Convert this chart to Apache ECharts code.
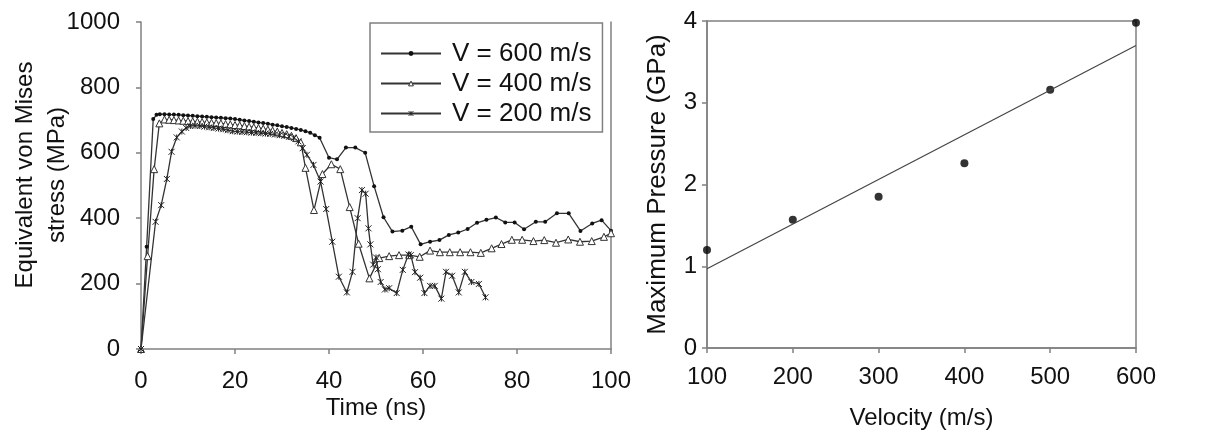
<!DOCTYPE html>
<html>
<head>
<meta charset="utf-8">
<script src="https://cdn.jsdelivr.net/npm/echarts@6/dist/echarts.min.js"></script>
<style>
  html, body { margin: 0; padding: 0; background: #fff; }
  #chart { width: 1214px; height: 438px; }
</style>
</head>
<body>
<div id="chart"></div>
<script>
// left panel: stress history [time (ns), stress (MPa)]
const v600 = [
  [0, 0], [1.2, 313], [2.6, 703], [3.3, 716], [4, 718], [5, 718], [6, 717], [7, 717], [8, 716], [9, 715],
  [10, 714], [11, 713], [12, 712], [13, 711], [14, 710], [15, 709], [16, 708], [17, 707], [18, 706], [19, 705],
  [20, 703], [21, 701], [22, 699], [23, 697], [24, 695], [25, 693], [26, 691], [27, 689], [28, 686], [29, 684],
  [30, 681], [31, 679], [32, 676], [33, 673], [34, 670], [35, 666], [36, 661], [37, 654], [38, 646], [40, 585],
  [41.7, 580], [43.6, 616], [45.6, 616], [47.7, 600], [49.6, 498], [51.6, 403], [53.5, 359], [55.6, 362],
  [57.5, 374], [59.5, 320], [61.5, 328], [63.5, 333], [65.5, 349], [67.5, 356], [69.5, 367], [71.5, 386],
  [73.5, 395], [75.5, 402], [77.5, 387], [79.5, 387], [81.5, 366], [84, 389], [86, 389], [88.5, 415],
  [91, 415], [93.5, 361], [96, 384], [98, 394], [100, 362]
];
const v400 = [
  [0, 0], [1.4, 284], [2.8, 550], [3.9, 690], [5, 702], [6, 701], [7, 700], [8, 699], [9, 698], [10, 697],
  [11, 696], [12, 695], [13, 694], [14, 693], [15, 692], [16, 691], [17, 690], [18, 688], [19, 687], [20, 685],
  [21, 684], [22, 682], [23, 680], [24, 678], [25, 676], [26, 674], [27, 671], [28, 668], [29, 665], [30, 661],
  [31, 657], [32, 652], [33, 645], [34, 632], [35, 554], [36.8, 425], [38.6, 535], [40.5, 565], [42.4, 550],
  [44.4, 434], [46.3, 322], [48.6, 216], [50.7, 278], [52.8, 284], [54.9, 287], [57.1, 287], [59.3, 282],
  [61.5, 301], [63.6, 296], [65.7, 296], [67.9, 296], [70.1, 296], [72.3, 294], [74.6, 308], [76.7, 321],
  [78.9, 334], [81.1, 334], [83.5, 330], [85.8, 333], [88.3, 325], [90.9, 335], [93.4, 328], [95.9, 330],
  [98.5, 343], [100, 354]
];
const v200 = [
  [0, 0], [3.1, 389], [4.3, 440], [5.5, 520], [6.5, 603], [7.6, 647], [8.7, 665], [9.6, 676], [10.5, 682],
  [11.5, 683], [12.5, 682], [13.5, 680], [14.5, 678], [15.5, 676], [16.5, 674], [17.5, 672], [18.5, 669],
  [19.5, 666], [20.5, 665], [21.5, 664], [22.5, 663], [23.5, 662], [24.5, 661], [25.5, 660], [26.5, 659],
  [27.5, 658], [28.5, 656], [29.5, 654], [30.5, 652], [31.5, 649], [32.5, 645], [33.5, 635], [34.4, 614],
  [35.3, 594], [36.7, 563], [38.2, 512], [39.4, 428], [40.7, 328], [42.1, 221], [43.8, 173], [45, 236],
  [46.1, 400], [47, 486], [47.8, 475], [48.4, 369], [48.8, 320], [49.4, 258], [50, 280], [50.4, 244],
  [51, 205], [51.9, 182], [52.8, 186], [54.4, 171], [55.7, 242], [56.9, 289], [57.4, 287], [58.3, 235],
  [59.4, 218], [60.3, 171], [61.5, 193], [62.5, 193], [63.9, 154], [64.9, 236], [66.2, 224], [67.6, 173],
  [68.9, 236], [70.3, 205], [71.9, 199], [73.3, 158]
];
const seriesNames = ['V = 600 m/s', 'V = 400 m/s', 'V = 200 m/s'];

// right panel: max pressure vs impact velocity
const velocities = [100, 200, 300, 400, 500, 600];
const pressures = [1.20, 1.57, 1.85, 2.26, 3.16, 3.98];
// linear trend line as read at both ends
const trendVel = [100, 600];
const trendPres = [0.97, 3.70];

const FONT = 'Liberation Sans, Arial, sans-serif';
const AXIS_GRAY = '#808080';
const LINE_GRAY = '#333';
const STAR = 'path://M0,0L10,10M10,0L0,10M5,0L5,10';

const chart = echarts.init(document.getElementById('chart'));

const plain = (v) => String(v);

const baseAxis = {
  axisLine: { show: true, lineStyle: { color: AXIS_GRAY, width: 1.5 } },
  axisTick: { show: true, length: 5, lineStyle: { color: AXIS_GRAY, width: 1.5 } },
  splitLine: { show: false },
  nameMoveOverlap: false,
  nameTextStyle: { color: '#111', fontFamily: FONT },
};

const option = {
  animation: false,
  textStyle: { fontFamily: FONT },
  grid: [
    { left: 141, top: 22, width: 470, height: 327, outerBoundsMode: 'none', containLabel: false },
    { left: 707, top: 21, width: 429, height: 327, outerBoundsMode: 'none', containLabel: false,
      show: true, borderColor: AXIS_GRAY, borderWidth: 1.5 }
  ],
  legend: {
    data: [
      { name: seriesNames[0], itemStyle: { color: '#111', borderWidth: 0 } },
      { name: seriesNames[1], itemStyle: { color: '#fff', borderColor: '#333', borderWidth: 1 } },
      { name: seriesNames[2], itemStyle: { color: 'rgba(0,0,0,0)', borderColor: '#222', borderWidth: 1 } }
    ],
    orient: 'vertical',
    left: 370,
    top: 23,
    padding: [16, 11, 4, 10],
    itemGap: 1,
    itemWidth: 60,
    itemHeight: 6,
    borderColor: AXIS_GRAY,
    borderWidth: 1.5,
    backgroundColor: '#fff',
    textStyle: { fontSize: 26, color: '#111', fontFamily: FONT, lineHeight: 29, padding: [0, 0, 0, 6] }
  },
  xAxis: [
    {
      ...baseAxis, type: 'value', gridIndex: 0, min: 0, max: 100, interval: 20,
      name: 'Time (ns)', nameLocation: 'middle', nameGap: 47,
      nameTextStyle: { ...baseAxis.nameTextStyle, fontSize: 24 },
      axisLabel: { fontSize: 24, color: '#111', margin: 20, fontFamily: FONT, formatter: plain }
    },
    {
      ...baseAxis, type: 'value', gridIndex: 1, min: 100, max: 600, interval: 100,
      name: 'Velocity (m/s)', nameLocation: 'middle', nameGap: 58,
      nameTextStyle: { ...baseAxis.nameTextStyle, fontSize: 24 },
      axisLabel: { fontSize: 24, color: '#111', margin: 17, fontFamily: FONT, formatter: plain }
    }
  ],
  yAxis: [
    {
      ...baseAxis, type: 'value', gridIndex: 0, min: 0, max: 1000, interval: 200,
      name: 'Equivalent von Mises\nstress (MPa)', nameLocation: 'middle', nameGap: 68,
      nameTextStyle: { ...baseAxis.nameTextStyle, fontSize: 24, lineHeight: 32, padding: [0, 0, 0, 21] },
      axisLabel: { fontSize: 24, color: '#111', margin: 21, fontFamily: FONT, formatter: plain }
    },
    {
      type: 'value', gridIndex: 0, position: 'right', min: 0, max: 1000,
      axisLine: { show: true, onZero: false, lineStyle: { color: AXIS_GRAY, width: 1.5 } },
      axisTick: { show: false }, axisLabel: { show: false }, splitLine: { show: false }
    },
    {
      ...baseAxis, type: 'value', gridIndex: 1, min: 0, max: 4, interval: 1,
      name: 'Maximum Pressure (GPa)', nameLocation: 'middle', nameGap: 36,
      nameTextStyle: { ...baseAxis.nameTextStyle, fontSize: 26 },
      axisLabel: { fontSize: 24, color: '#111', margin: 10, fontFamily: FONT, formatter: plain }
    }
  ],
  series: [
    {
      name: seriesNames[0], type: 'line', xAxisIndex: 0, yAxisIndex: 0, data: v600,
      showAllSymbol: true, symbol: 'circle', symbolSize: 4,
      lineStyle: { color: LINE_GRAY, width: 1.3 },
      itemStyle: { color: '#111' }
    },
    {
      name: seriesNames[1], type: 'line', xAxisIndex: 0, yAxisIndex: 0, data: v400,
      showAllSymbol: true, symbol: 'triangle', symbolSize: 7,
      lineStyle: { color: LINE_GRAY, width: 1.3 },
      itemStyle: { color: '#fff', borderColor: '#333', borderWidth: 1 }
    },
    {
      name: seriesNames[2], type: 'line', xAxisIndex: 0, yAxisIndex: 0, data: v200,
      showAllSymbol: true, symbol: STAR, symbolSize: 6,
      lineStyle: { color: LINE_GRAY, width: 1.3 },
      itemStyle: { color: 'rgba(0,0,0,0)', borderColor: '#222', borderWidth: 1 }
    },
    {
      type: 'line', xAxisIndex: 1, yAxisIndex: 2,
      data: trendVel.map((v, i) => [v, trendPres[i]]),
      symbol: 'none', lineStyle: { color: '#444', width: 1.2 }
    },
    {
      type: 'scatter', xAxisIndex: 1, yAxisIndex: 2,
      data: velocities.map((v, i) => [v, pressures[i]]),
      symbol: 'circle', symbolSize: 8, itemStyle: { color: '#000' }
    }
  ]
};

chart.setOption(option);
</script>
</body>
</html>
